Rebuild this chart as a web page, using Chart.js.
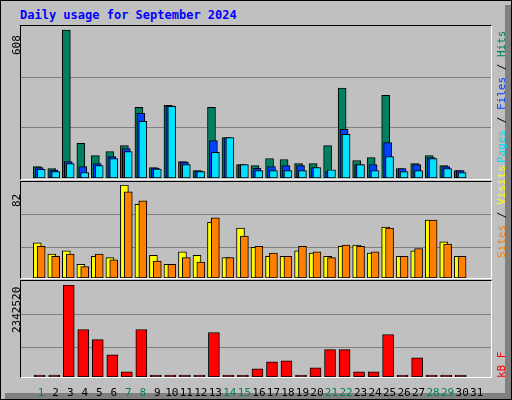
<!DOCTYPE html>
<html>
<head>
<meta charset="utf-8">
<script src="https://cdn.jsdelivr.net/npm/chart.js@4"></script>
<style>
  body { margin: 0; background: #fff; }
  #frame { position: absolute; left: 0; top: 0; width: 510px; height: 398px; border: 1px solid #000; background: #c0c0c0; overflow: hidden; }
  #shadeR { position: absolute; left: 504px; top: 4px; width: 6px; height: 394px; background: #808080; }
  #shadeB { position: absolute; left: 4px; top: 392px; width: 506px; height: 6px; background: #808080; }
  .panel { position: absolute; left: 19px; width: 470px; border-top: 1px solid #000; border-left: 1px solid #000; border-right: 1px solid #fff; border-bottom: 1px solid #fff; }
  .wrap { position: absolute; left: 0; width: 512px; }
  .txt { position: absolute; font-family: "DejaVu Sans Mono", monospace; font-size: 11px; white-space: nowrap; }
  .rot { transform-origin: left top; transform: rotate(-90deg); }
  #title { left: 19px; top: 7px; font-size: 12px; font-weight: bold; color: #0000ff; }
</style>
</head>
<body>
<div id="frame">
  <div id="shadeR"></div><div id="shadeB"></div>
  <div class="panel" style="top:24px;height:153px"></div>
  <div class="panel" style="top:180px;height:96px"></div>
  <div class="panel" style="top:279px;height:96px"></div>
  <div class="wrap" style="top:25px;height:152px"><canvas id="top"></canvas></div>
  <div class="wrap" style="top:181px;height:96px"><canvas id="mid"></canvas></div>
  <div class="wrap" style="top:281px;height:115px"><canvas id="bot"></canvas></div>
  <div id="title" class="txt">Daily usage for September 2024</div>
  <div class="txt rot" style="left:9px;top:54px;color:#000">608</div>
  <div class="txt rot" style="left:9px;top:206px;color:#000">82</div>
  <div class="txt rot" style="left:9px;top:332px;color:#000">2342520</div>
  <div class="txt rot" style="left:494px;top:162px"><span style="color:#00e0ff">Pages</span><span style="color:#000"> / </span><span style="color:#0040ff">Files</span><span style="color:#000"> / </span><span style="color:#008060">Hits</span></div>
  <div class="txt rot" style="left:494px;top:257px"><span style="color:#ff8000">Sites</span><span style="color:#000"> / </span><span style="color:#ffff00">Visits</span></div>
  <div class="txt rot" style="left:494px;top:377px"><span style="color:#ff0000">kB F</span></div>
</div>
<script>
const days = Array.from({ length: 31 }, (_, i) => i + 1);
const weekendDays = [1, 7, 8, 14, 15, 21, 22, 28, 29];

const hits  = [47, 39, 608, 142, 92, 109, 133, 290, 43, 299, 67, 30, 290, 166, 55, 51, 80, 76, 59, 59, 133, 369, 72, 84, 340, 39, 59, 92, 51, 30, null];
const files = [43, 33, 67, 47, 59, 88, 121, 266, 41, 297, 65, 29, 154, 165, 54, 40, 47, 51, 51, 43, 26, 200, 55, 55, 146, 39, 55, 84, 47, 30, null];
const pages = [36, 26, 59, 22, 51, 80, 109, 233, 37, 294, 55, 26, 105, 166, 55, 30, 30, 30, 30, 43, 34, 179, 55, 30, 88, 26, 30, 80, 39, 22, null];

const sites  = [31, 21, 24, 12, 19, 18, 82, 65, 20, 12, 23, 20, 49, 18, 44, 27, 19, 19, 24, 22, 19, 28, 29, 22, 45, 19, 24, 51, 32, 19, null];
const visits = [28, 19, 21, 10, 21, 16, 76, 68, 15, 12, 18, 14, 53, 18, 37, 28, 22, 19, 28, 23, 18, 29, 28, 23, 44, 19, 26, 51, 30, 19, null];

const kbytes = [0, 0, 2342520, 1209000, 953000, 566000, 129000, 1209000, 0, 0, 0, 0, 1133000, 0, 0, 206000, 386000, 412000, 0, 232000, 695000, 695000, 129000, 129000, 1081000, 0, 489000, 0, 0, 0, null];

const PX = 15; // pixels per day
function pts(values, shiftPx) {
    return values.map((v, i) => v === null ? null : { x: days[i] + shiftPx / PX, y: v });
}
function bar(label, values, shiftPx, color, width, minLen) {
    return {
        label: label, data: pts(values, shiftPx).filter(p => p), backgroundColor: color,
        borderColor: '#000', borderWidth: 1, borderSkipped: false,
        barThickness: width, grouped: false, minBarLength: minLen || 0
    };
}
function options(xMin, yMax, grid, showX) {
    return {
        responsive: true, maintainAspectRatio: false, animation: false,
        layout: { padding: { left: 20, right: 22, top: 3, bottom: 0 } },
        plugins: { legend: { display: false }, tooltip: { enabled: false } },
        scales: {
            x: {
                type: 'linear', min: xMin, max: xMin + 470 / PX, display: showX,
                grid: { display: false }, border: { display: false },
                afterBuildTicks: s => { s.ticks = days.map(d => ({ value: d })); },
                afterFit: s => { s.height = showX ? 20 : 0; },
                ticks: {
                    padding: 2, maxRotation: 0, minRotation: 0, autoSkip: false,
                    font: { family: 'DejaVu Sans Mono', size: 11 },
                    color: c => weekendDays.includes(c.tick.value) ? '#008060' : '#000',
                    callback: v => String(v)
                }
            },
            y: {
                min: 0, max: yMax,
                afterBuildTicks: s => { s.ticks = grid.map(v => ({ value: v })); },
                ticks: { display: false }, border: { display: false },
                grid: { color: '#808080', lineWidth: 1, drawTicks: false },
                afterFit: s => { s.width = 0; }
            }
        }
    };
}

new Chart(document.getElementById('top'), {
    type: 'bar',
    data: { datasets: [
        bar('Pages', pages, 4, '#00e0ff', 8),
        bar('Files', files, 2, '#0040ff', 8),
        bar('Hits', hits, 0, '#008060', 8)
    ] },
    options: options(1 - 9 / PX, 608 * 148 / 147, [207, 413], false)
});

new Chart(document.getElementById('mid'), {
    type: 'bar',
    data: { datasets: [
        bar('Visits', visits, 4, '#ff8000', 8),
        bar('Sites', sites, 0, '#ffff00', 8)
    ] },
    options: options(1 - 9 / PX, 82, [27, 56], false)
});

new Chart(document.getElementById('bot'), {
    type: 'bar',
    data: { datasets: [
        bar('kB F', kbytes, -1.5, '#ff0000', 11, 2)
    ] },
    options: options(1 - 13 / PX, 2342520, [747000, 1604000], true)
});
</script>
</body>
</html>
